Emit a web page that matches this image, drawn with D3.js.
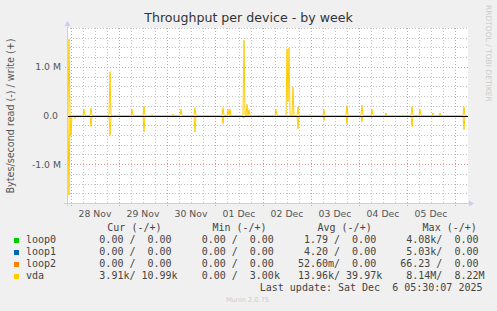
<!DOCTYPE html>
<html lang="en">
<head>
  <meta charset="utf-8"/>
  <title>Throughput per device - by week</title>
  <script src="https://cdn.jsdelivr.net/npm/d3@7/dist/d3.min.js"></script>
  <style>
    html, body { margin:0; padding:0; background:#f0f0f0; overflow:hidden; }
    svg { display:block; }
    text { font-family:"DejaVu Sans", sans-serif; }
    .mono { font-family:"DejaVu Sans Mono", monospace; font-size:10px; fill:#444; white-space:pre; }
  </style>
</head>
<body>
<svg width="497" height="311"></svg>
<script>
// --- data ---------------------------------------------------------------
// spikes of the vda series, hours after the start of the graph (Nov 27 22:00)
const spikeHours = [1, 2, 4, 8.5, 12, 21.5, 26, 32.5, 38.5, 42.5, 53, 57, 64, 78, 80.5, 81.5,
                    88, 88.5, 90, 91, 98, 104.5, 110, 110.5, 111, 111.5, 113, 115.5, 121.5,
                    128.5, 140, 147.5, 152.5, 159.5, 168, 172.5, 176.5, 183, 186.5, 198.5];
// write (+) bytes/s at those hours
const writeVals = [1.57e6, 0, 0, 0.13e6, 0.15e6, 0.90e6, 0.02e6, 0.13e6, 0.19e6, 0.02e6, 0.03e6, 0.13e6, 0.16e6, 0.16e6, 0.13e6, 0.13e6,
                   0, 1.55e6, 0.23e6, 0.12e6, 0.01e6, 0.13e6, 1.37e6, 0.28e6, 1.39e6, 0.05e6, 0.58e6, 0.18e6, 0.02e6,
                   0.12e6, 0.21e6, 0.21e6, 0.13e6, 0.05e6, 0.01e6, 0.19e6, 0.13e6, 0.05e6, 0.05e6, 0.18e6];
// read (-) bytes/s at those hours
const readVals  = [1.64e6, 0.41e6, 0.06e6, 0.02e6, 0.23e6, 0.41e6, 0.01e6, 0.02e6, 0.34e6, 0, 0, 0.03e6, 0.34e6, 0.17e6, 0.03e6, 0,
                   0.05e6, 0.05e6, 0, 0, 0, 0.01e6, 0, 0, 0, 0, 0, 0.27e6, 0,
                   0.10e6, 0.17e6, 0.13e6, 0.04e6, 0, 0, 0.23e6, 0.02e6, 0, 0, 0.29e6];

const devices = ["loop0", "loop1", "loop2", "vda"];
const colors  = ["#00cc00", "#0066b3", "#ff8000", "#ffcc00"];
const curR = [0, 0, 0, 3.91e3],     curW = [0, 0, 0, 10.99e3];
const minR = [0, 0, 0, 0],          minW = [0, 0, 0, 3.00e3];
const avgR = [1.79, 4.20, 52.60e-3, 13.96e3], avgW = [0, 0, 0, 39.97e3];
const maxR = [4.08e3, 5.03e3, 66.23, 8.14e6], maxW = [0, 0, 0, 8.22e6];
const headers = ["Cur (-/+)", "Min (-/+)", "Avg (-/+)", "Max (-/+)"];
const yMajor = [-1e6, 0, 1e6];
const yLabels = ["-1.0 M", "0.0 ", "1.0 M"];

// --- layout -------------------------------------------------------------
const svg = d3.select("svg");
const L = 67, R = 467, T = 28, B = 203;
const start = new Date(2025, 10, 27, 22, 0);
const end = new Date(+start + 200 * 3600e3);
const x = d3.scaleTime().domain([start, end]).range([L, R]);
const y = d3.scaleLinear().domain([-1.8e6, 1.8e6]).range([B, T]);

svg.append("rect").attr("x", L).attr("y", T).attr("width", R - L + 1).attr("height", B - T).attr("fill", "#fff");

// grid
const g = svg.append("g").attr("shape-rendering", "crispEdges");
const minC = "#c4c4c4", majC = "#dc9a9a", dash = "1,2";
const minorT = d3.timeHour.every(6).range(start, end).filter(d => d.getHours() !== 0);
g.selectAll(".vmin").data(minorT).join("line")
  .attr("x1", d => Math.round(x(d)) + 0.5).attr("x2", d => Math.round(x(d)) + 0.5)
  .attr("y1", T).attr("y2", B + 2).attr("stroke", minC).attr("stroke-dasharray", dash);
const yMinor = d3.range(-9, 10).map(i => i * 0.2e6).filter(v => Math.abs(v % 1e6) > 1);
g.selectAll(".hmin").data(yMinor).join("line")
  .attr("x1", L).attr("x2", R + 1)
  .attr("y1", d => Math.round(y(d)) + 0.5).attr("y2", d => Math.round(y(d)) + 0.5)
  .attr("stroke", minC).attr("stroke-dasharray", dash);
const days = d3.timeDay.range(start, end);
g.selectAll(".vmaj").data(days).join("line")
  .attr("x1", d => Math.round(x(d)) + 0.5).attr("x2", d => Math.round(x(d)) + 0.5)
  .attr("y1", T).attr("y2", B + 3).attr("stroke", majC).attr("stroke-dasharray", dash);
g.selectAll(".hmaj").data(yMajor.filter(v => v !== 0)).join("line")
  .attr("x1", L - 2).attr("x2", R + 1)
  .attr("y1", d => Math.round(y(d)) + 0.5).attr("y2", d => Math.round(y(d)) + 0.5)
  .attr("stroke", majC).attr("stroke-dasharray", dash);

// series
function series(vals, sign) {
  const m = new Map(spikeHours.map((h, i) => [h, vals[i]]));
  return d3.range(0, 401).map(i => [i / 2, sign * (m.get(i / 2) || 0)]);
}
const line = d3.line().x(d => x(new Date(+start + d[0] * 3600e3))).y(d => y(d[1]));
[series(writeVals, 1), series(readVals, -1)].forEach(s => {
  svg.append("path").attr("d", line(s)).attr("fill", "none")
    .attr("stroke", colors[3]).attr("stroke-width", 1);
});
svg.append("line").attr("x1", L).attr("x2", R + 1).attr("y1", Math.round(y(0)) + 0.5).attr("y2", Math.round(y(0)) + 0.5)
  .attr("stroke", "#000").attr("shape-rendering", "crispEdges");

// axes
const axc = "#c8ccff";
svg.append("line").attr("x1", L - 3).attr("x2", R + 3).attr("y1", B + 0.5).attr("y2", B + 0.5).attr("stroke", axc).attr("shape-rendering", "crispEdges");
svg.append("line").attr("x1", L + 0.5).attr("x2", L + 0.5).attr("y1", B + 3).attr("y2", T - 3).attr("stroke", axc).attr("shape-rendering", "crispEdges");
svg.append("path").attr("d", `M${R + 2},${B - 2.5}L${R + 7},${B + 0.5}L${R + 2},${B + 3.5}Z`).attr("fill", axc);
svg.append("path").attr("d", `M${L - 2.5},${T - 2}L${L + 0.5},${T - 7}L${L + 3.5},${T - 2}Z`).attr("fill", axc);

// tick labels
svg.selectAll(".yl").data(yMajor).join("text")
  .attr("x", 61).attr("y", d => y(d) + 3.5).attr("text-anchor", "end")
  .style("white-space", "pre").attr("font-size", 9.3).attr("fill", "#555")
  .text((d, i) => yLabels[i]);
const fmtDay = d3.timeFormat("%d %b");
svg.selectAll(".xl").data(days.filter(d => +d + 12 * 3600e3 < +end)).join("text")
  .attr("x", d => x(new Date(+d + 12 * 3600e3))).attr("y", 216.5).attr("text-anchor", "middle")
  .attr("font-size", 9.3).attr("fill", "#555").text(fmtDay);

// titles
svg.append("text").attr("x", 248.5).attr("y", 22).attr("text-anchor", "middle")
  .attr("font-size", 12.6).attr("fill", "#333").text("Throughput per device - by week");
svg.append("text").attr("transform", "translate(14,116) rotate(-90)").attr("text-anchor", "middle")
  .attr("font-size", 9.6).attr("fill", "#555").text("Bytes/second read (-) / write (+)");
svg.append("text").attr("transform", "translate(485.5,5) rotate(90)")
  .attr("font-size", 7.5).attr("fill", "#ccc").text("RRDTOOL / TOBI OETIKER");

// legend
function si(v) {
  const u = [[1e6, "M"], [1e3, "k"], [1, " "], [1e-3, "m"]];
  if (v === 0) return "  0.00 ";
  const [f, s] = u.find(p => Math.abs(v) >= p[0]) || [1, " "];
  return (v / f).toFixed(2).padStart(6) + s;
}
const cell = (r, w) => si(r) + "/" + si(w);
const leg = svg.append("g");
headers.forEach((h, i) => {
  leg.append("text").attr("class", "mono").attr("x", 107.3 + i * 105.1).attr("y", 231).text(h);
});
devices.forEach((d, i) => {
  const yy = 243 + i * 12;
  leg.append("rect").attr("x", 14).attr("y", yy - 5).attr("width", 5).attr("height", 5).attr("fill", colors[i]);
  leg.append("text").attr("class", "mono").attr("x", 26).attr("y", yy).text(d);
  [[curR, curW], [minR, minW], [avgR, avgW], [maxR, maxW]].forEach((c, j) => {
    leg.append("text").attr("class", "mono").attr("x", 87.3 + j * 102.3).attr("y", yy).text(cell(c[0][i], c[1][i]));
  });
});
leg.append("text").attr("class", "mono").attr("x", 482.5).attr("y", 291).attr("text-anchor", "end")
  .text("Last update: Sat Dec  6 05:30:07 2025");
svg.append("text").attr("x", 247.5).attr("y", 302).attr("text-anchor", "middle")
  .attr("font-size", 6.6).attr("fill", "#ccc").text("Munin 2.0.75");
</script>
</body>
</html>
